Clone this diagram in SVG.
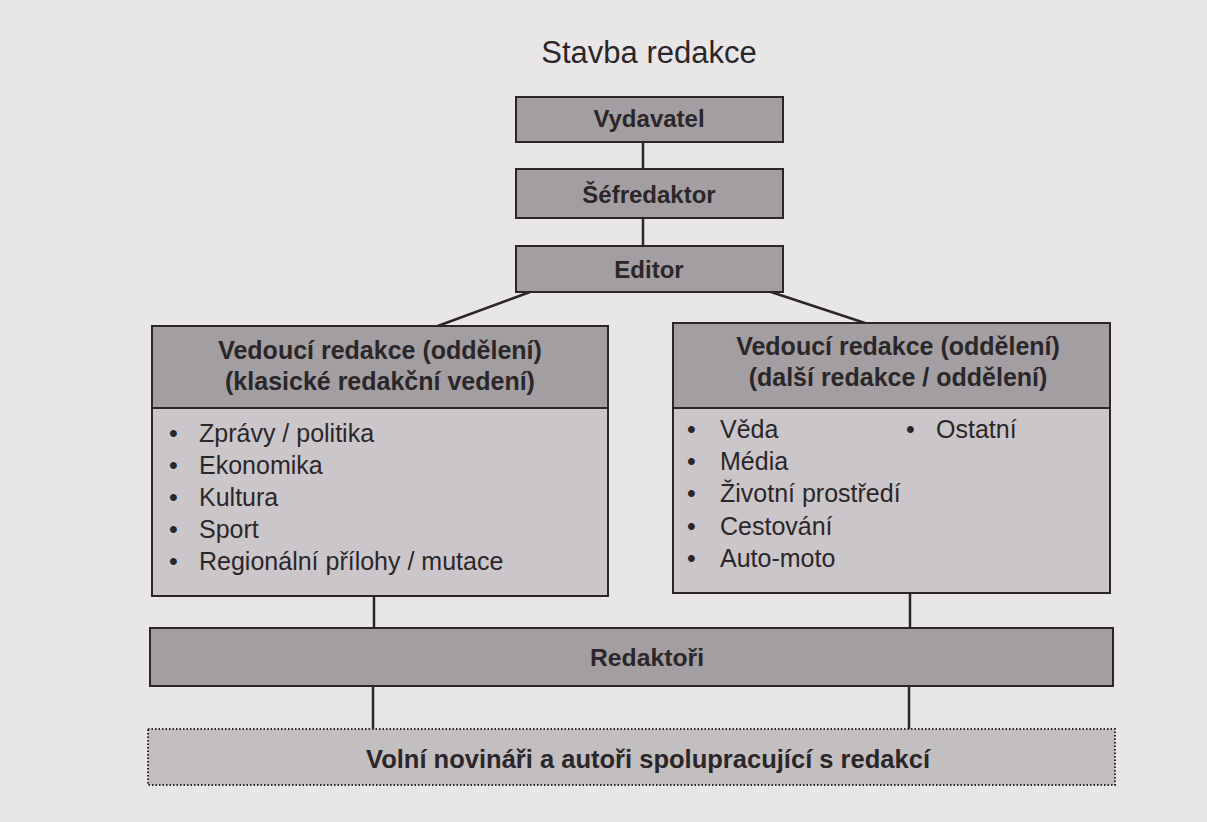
<svg xmlns="http://www.w3.org/2000/svg" width="1207" height="822" viewBox="0 0 1207 822">
<style>
text{font-family:"Liberation Sans",Arial,sans-serif;fill:#2b2629}
.b{font-weight:bold}
.box{fill:#a39ea1;stroke:#2b2629;stroke-width:2}
.body{fill:#cbc6c9;stroke:#2b2629;stroke-width:2}
.ln{stroke:#2b2629;stroke-width:2.5;fill:none}
.t{font-size:24px;text-anchor:middle}
.h{font-size:25px;text-anchor:middle}
.li{font-size:25px}
</style>
<rect x="0" y="0" width="1207" height="822" fill="#e9e6e8"/>
<text x="649" y="63" font-size="31" text-anchor="middle">Stavba redakce</text>
<g id="connectors">
<line class="ln" x1="643" y1="142" x2="643" y2="169"/>
<line class="ln" x1="643" y1="218" x2="643" y2="246"/>
<line class="ln" x1="530" y1="292" x2="435" y2="327"/>
<line class="ln" x1="765" y1="290" x2="865" y2="323"/>
<line class="ln" x1="374" y1="596" x2="374" y2="628"/>
<line class="ln" x1="910" y1="593" x2="910" y2="628"/>
<line class="ln" x1="373" y1="686" x2="373" y2="729"/>
<line class="ln" x1="909" y1="686" x2="909" y2="729"/>
</g>
<g id="vydavatel">
<rect class="box" x="516" y="97" width="267" height="45"/>
<text class="t b" x="649" y="127">Vydavatel</text>
</g>
<g id="sefredaktor">
<rect class="box" x="516" y="169" width="267" height="49"/>
<text class="t b" x="649" y="203">Šéfredaktor</text>
</g>
<g id="editor">
<rect class="box" x="516" y="246" width="267" height="46"/>
<text class="t b" x="649" y="278">Editor</text>
</g>
<g id="vedouci-klasicke">
<rect class="body" x="152" y="326" width="456" height="270"/>
<rect class="box" x="152" y="326" width="456" height="82"/>
<text class="h b" x="380" y="359">Vedoucí redakce (oddělení)</text>
<text class="h b" x="380" y="390">(klasické redakční vedení)</text>
<text class="li" x="169" y="442">•</text><text class="li" x="199" y="442">Zprávy / politika</text>
<text class="li" x="169" y="474">•</text><text class="li" x="199" y="474">Ekonomika</text>
<text class="li" x="169" y="506">•</text><text class="li" x="199" y="506">Kultura</text>
<text class="li" x="169" y="538">•</text><text class="li" x="199" y="538">Sport</text>
<text class="li" x="169" y="570">•</text><text class="li" x="199" y="570">Regionální přílohy / mutace</text>
</g>
<g id="vedouci-dalsi">
<rect class="body" x="673" y="323" width="437" height="270"/>
<rect class="box" x="673" y="323" width="437" height="85"/>
<text class="h b" x="898" y="355">Vedoucí redakce (oddělení)</text>
<text class="h b" x="898" y="386">(další redakce / oddělení)</text>
<text class="li" x="687" y="438">•</text><text class="li" x="720" y="438">Věda</text>
<text class="li" x="906" y="438">•</text><text class="li" x="936" y="438">Ostatní</text>
<text class="li" x="687" y="470">•</text><text class="li" x="720" y="470">Média</text>
<text class="li" x="687" y="502">•</text><text class="li" x="720" y="502">Životní prostředí</text>
<text class="li" x="687" y="535">•</text><text class="li" x="720" y="535">Cestování</text>
<text class="li" x="687" y="567">•</text><text class="li" x="720" y="567">Auto-moto</text>
</g>
<g id="redaktori">
<rect class="box" x="150" y="628" width="963" height="58"/>
<text class="b" x="647" y="666" font-size="24" text-anchor="middle" textLength="114" lengthAdjust="spacingAndGlyphs">Redaktoři</text>
</g>
<g id="volni">
<rect x="148" y="729" width="967" height="56" fill="#c3bfc1" stroke="#2b2629" stroke-width="2" stroke-dasharray="1.5 2"/>
<text class="b" x="648" y="768" font-size="25" text-anchor="middle" textLength="564" lengthAdjust="spacingAndGlyphs">Volní novináři a autoři spolupracující s redakcí</text>
</g>
</svg>
